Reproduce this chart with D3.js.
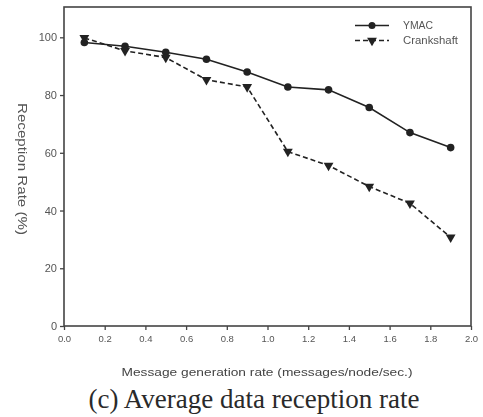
<!DOCTYPE html>
<html><head><meta charset="utf-8">
<script src="https://cdn.jsdelivr.net/npm/d3@7"></script>
<style>body{margin:0;background:#fff}svg{display:block}</style>
</head><body>
<script>
const rates = [0.1,0.3,0.5,0.7,0.9,1.1,1.3,1.5,1.7,1.9];
const ymac = [98.2,96.9,94.8,92.4,88,82.8,81.8,75.7,67,61.8];
const crankshaft = [99.8,95.3,93,85.3,82.8,60.4,55.6,48.3,42.5,30.7];
const xTicks = [0,0.2,0.4,0.6,0.8,1.0,1.2,1.4,1.6,1.8,2.0];
const yTicks = [0,20,40,60,80,100];
const seriesNames = ["YMAC","Crankshaft"];

const W=483,H=417;
const m={l:64,r:471,t:7,b:326};
const svg=d3.select("body").append("svg").attr("width",W).attr("height",H);
const x=d3.scaleLinear().domain([0,2]).range([m.l,m.r]);
const y=d3.scaleLinear().domain([0,110.5]).range([m.b,m.t]);
const g=svg.append("g").style("filter","blur(0.45px)");
const col="#222";
const sans="Liberation Sans, Arial";

g.append("rect").attr("x",m.l).attr("y",m.t).attr("width",m.r-m.l).attr("height",m.b-m.t)
 .attr("fill","none").attr("stroke","#444").attr("stroke-width",1.6);

const xa=g.append("g").attr("transform",`translate(0,${m.b})`)
 .call(d3.axisBottom(x).tickValues(xTicks).tickFormat(d3.format(".1f")).tickSize(4).tickPadding(5));
const ya=g.append("g").attr("transform",`translate(${m.l},0)`)
 .call(d3.axisLeft(y).tickValues(yTicks).tickFormat(d3.format("d")).tickSize(4).tickPadding(3));
[xa,ya].forEach(a=>{a.select(".domain").remove();
 a.selectAll("line").attr("stroke","#444").attr("stroke-width",1.3);
 a.selectAll("text").attr("font-family",sans).attr("fill","#555");});
xa.selectAll("text").attr("font-size",9.5);
ya.selectAll("text").attr("font-size",11);

const line=d3.line().x(d=>x(d[0])).y(d=>y(d[1]));
const dY=rates.map((r,i)=>[r,ymac[i]]);
const dC=rates.map((r,i)=>[r,crankshaft[i]]);
g.append("path").attr("d",line(dY)).attr("fill","none").attr("stroke",col).attr("stroke-width",1.6);
g.append("path").attr("d",line(dC)).attr("fill","none").attr("stroke",col).attr("stroke-width",1.6).attr("stroke-dasharray","5,3");
g.selectAll(".cy").data(dY).join("circle").attr("cx",d=>x(d[0])).attr("cy",d=>y(d[1])).attr("r",3.8).attr("fill",col);
const tri=d3.symbol().type(d3.symbolTriangle).size(42);
g.selectAll(".tc").data(dC).join("path").attr("d",tri)
 .attr("transform",d=>`translate(${x(d[0])},${y(d[1])}) rotate(180)`).attr("fill",col);

// legend
const lg=g.append("g");
const ly=[25.5,40.5];
lg.append("line").attr("x1",355).attr("x2",389).attr("y1",ly[0]).attr("y2",ly[0]).attr("stroke",col).attr("stroke-width",1.6);
lg.append("circle").attr("cx",372).attr("cy",ly[0]).attr("r",3.5).attr("fill",col);
lg.append("line").attr("x1",355).attr("x2",389).attr("y1",ly[1]).attr("y2",ly[1]).attr("stroke",col).attr("stroke-width",1.6).attr("stroke-dasharray","5,3");
lg.append("path").attr("d",tri).attr("transform",`translate(372,${ly[1]}) rotate(180)`).attr("fill",col);
const lw=[30,55];
seriesNames.forEach((n,i)=>lg.append("text").attr("x",403).attr("y",ly[i]+3.8).text(n)
 .attr("font-family",sans).attr("font-size",10).attr("fill","#555")
 .attr("textLength",lw[i]).attr("lengthAdjust","spacingAndGlyphs"));

g.append("text").attr("transform",`translate(18,169) rotate(90)`).attr("text-anchor","middle")
 .attr("font-family",sans).attr("font-size",12).attr("fill","#555")
 .attr("textLength",132).attr("lengthAdjust","spacingAndGlyphs").text("Reception Rate (%)");
g.append("text").attr("x",267).attr("y",376).attr("text-anchor","middle")
 .attr("font-family",sans).attr("font-size",11.5).attr("fill","#444")
 .attr("textLength",291).attr("lengthAdjust","spacingAndGlyphs").text("Message generation rate (messages/node/sec.)");
svg.append("text").attr("x",254).attr("y",408).attr("text-anchor","middle")
 .attr("font-family","Liberation Serif, Times New Roman").attr("font-size",27).attr("fill","#2a2a2a")
 .text("(c) Average data reception rate");
</script>
</body></html>
